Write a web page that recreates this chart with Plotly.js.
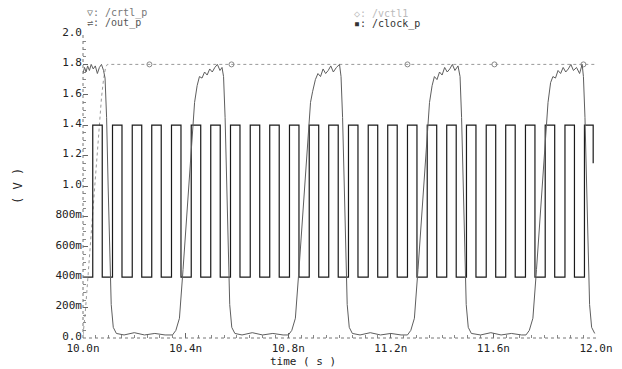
<!DOCTYPE html>
<html>
<head>
<meta charset="utf-8">
<script src="https://cdn.plot.ly/plotly-3.0.1.min.js"></script>
<style>html,body{margin:0;padding:0;background:#fff;}#chart{width:622px;height:369px;}</style>
</head>
<body>
<div id="chart"></div>
<script>
// ---- data (time in ns, voltage in V) ----
var clockTime = [10.000,10.038,10.075,10.115,10.152,10.192,10.229,10.268,10.305,10.345,10.382,10.422,10.459,10.498,10.535,10.575,10.612,10.652,10.689,10.728,10.765,10.805,10.842,10.882,10.919,10.958,10.995,11.035,11.072,11.112,11.149,11.188,11.225,11.265,11.302,11.342,11.379,11.418,11.455,11.495,11.532,11.572,11.609,11.648,11.685,11.725,11.762,11.802,11.839,11.879,11.916,11.955,11.989];
var clockVolt = [0.4,1.4,0.4,1.4,0.4,1.4,0.4,1.4,0.4,1.4,0.4,1.4,0.4,1.4,0.4,1.4,0.4,1.4,0.4,1.4,0.4,1.4,0.4,1.4,0.4,1.4,0.4,1.4,0.4,1.4,0.4,1.4,0.4,1.4,0.4,1.4,0.4,1.4,0.4,1.4,0.4,1.4,0.4,1.4,0.4,1.4,0.4,1.4,0.4,1.4,0.4,1.4,1.15];

var outTime = [
 10.000,10.006,10.012,10.018,10.025,10.032,10.040,10.048,10.056,10.064,10.072,10.080,10.086,10.092,10.098,10.104,10.110,10.118,10.130,
 10.160,10.200,10.240,10.280,10.320,
 10.349,10.362,10.376,10.390,10.403,10.415,10.425,10.435,10.445,10.454,10.464,10.474,10.484,10.494,10.504,10.514,10.524,10.534,10.542,10.548,10.554,10.560,10.566,10.572,10.580,10.592,
 10.620,10.660,10.700,10.740,10.780,
 10.801,10.814,10.828,10.842,10.855,10.867,10.877,10.887,10.895,10.906,10.916,10.926,10.936,10.946,10.956,10.966,10.976,10.988,11.000,11.006,11.012,11.018,11.024,11.030,11.038,11.050,
 11.080,11.120,11.160,11.200,11.240,
 11.265,11.278,11.292,11.306,11.319,11.331,11.341,11.351,11.361,11.370,11.380,11.390,11.400,11.410,11.420,11.430,11.440,11.450,11.462,11.470,11.476,11.482,11.488,11.494,11.502,11.514,
 11.550,11.590,11.630,11.670,11.710,
 11.727,11.740,11.754,11.768,11.781,11.793,11.803,11.813,11.823,11.832,11.842,11.852,11.862,11.872,11.882,11.892,11.902,11.912,11.924,11.936,11.946,11.951,11.957,11.963,11.969,11.975,11.983,11.995];
var outVolt = [
 1.74,1.78,1.75,1.79,1.76,1.80,1.77,1.79,1.74,1.78,1.80,1.76,1.71,1.45,1.00,0.55,0.22,0.07,0.03,
 0.02,0.035,0.02,0.03,0.02,
 0.02,0.05,0.13,0.45,0.75,1.05,1.30,1.55,1.66,1.72,1.71,1.75,1.73,1.77,1.75,1.78,1.80,1.76,1.78,1.72,1.45,1.00,0.55,0.22,0.07,0.03,
 0.02,0.035,0.02,0.03,0.02,
 0.02,0.05,0.13,0.45,0.75,1.05,1.30,1.55,1.62,1.70,1.74,1.72,1.77,1.74,1.76,1.79,1.75,1.78,1.80,1.72,1.45,1.00,0.55,0.22,0.07,0.03,
 0.02,0.035,0.02,0.03,0.02,
 0.02,0.05,0.13,0.45,0.75,1.05,1.30,1.55,1.66,1.72,1.70,1.75,1.73,1.78,1.75,1.77,1.80,1.76,1.79,1.72,1.45,1.00,0.55,0.22,0.07,0.03,
 0.02,0.035,0.02,0.03,0.02,
 0.02,0.05,0.13,0.45,0.75,1.05,1.30,1.55,1.68,1.72,1.71,1.76,1.74,1.78,1.75,1.77,1.80,1.76,1.78,1.74,1.80,1.72,1.45,1.00,0.55,0.22,0.07,0.03];

var ctrlTime = [10.000,10.008,10.017,10.025,10.035,10.045,10.055,10.064,10.072,10.080,10.088,10.095,12.000];
var ctrlVolt = [0.02,0.15,0.35,0.55,0.78,0.98,1.20,1.42,1.58,1.70,1.78,1.80,1.80];

var vctlTime = [10.259,10.579,11.265,11.604,11.951];
var vctlVolt = [1.80,1.80,1.80,1.80,1.80];

var xTickVals = [10.0,10.4,10.8,11.2,11.6,12.0];
var xTickText = ['10.0n','10.4n','10.8n','11.2n','11.6n','12.0n'];
var yTickVals = [0,0.2,0.4,0.6,0.8,1.0,1.2,1.4,1.6,1.8,2.0];
var yTickText = ['0.0','200m','400m','600m','800m','1.0','1.2','1.4','1.6','1.8','2.0'];

// ---- chart ----
var mono = 'DejaVu Sans Mono, monospace';
var traces = [
  {x: ctrlTime, y: ctrlVolt, type: 'scatter', mode: 'lines', name: '/crtl_p',
   line: {color: '#9a9a9a', width: 1, dash: 'dot'}},
  {x: vctlTime, y: vctlVolt, type: 'scatter', mode: 'markers', name: '/vctl1',
   marker: {symbol: 'circle-open', size: 5, color: '#888', line: {width: 1}}},
  {x: clockTime, y: clockVolt, type: 'scatter', mode: 'lines', name: '/clock_p',
   line: {color: '#1a1a1a', width: 1.2, shape: 'hv'}},
  {x: outTime, y: outVolt, type: 'scatter', mode: 'lines', name: '/out_p',
   line: {color: '#5e5e5e', width: 1}}
];

var L = 83, R = 26, T = 34, B = 31;
var pw = 622 - L - R, ph = 369 - T - B;
function px(x){ return (x - L) / pw; }
function py(y){ return (369 - B - y) / ph; }

var layout = {
  width: 622, height: 369,
  margin: {l: L, r: R, t: T, b: B, pad: 0},
  paper_bgcolor: '#fff', plot_bgcolor: '#fff',
  showlegend: false,
  xaxis: {
    range: [10, 12], tickvals: xTickVals, ticktext: xTickText,
    showgrid: false, zeroline: false, showline: false,
    ticks: 'inside', ticklen: 5, tickcolor: '#666', tickwidth: 1,
    ticklabelstandoff: 2,
    minor: {ticks: 'inside', ticklen: 3, dtick: 0.05, tickcolor: '#888', showgrid: false},
    tickfont: {family: mono, size: 11, color: '#222'}
  },
  yaxis: {
    range: [0, 2], tickvals: yTickVals, ticktext: yTickText,
    showgrid: false, zeroline: false, showline: false,
    ticks: 'inside', ticklen: 5, tickcolor: '#666', tickwidth: 1,
    ticklabelshift: -2,
    minor: {ticks: 'inside', ticklen: 3, dtick: 0.05, tickcolor: '#888', showgrid: false},
    tickfont: {family: mono, size: 11, color: '#222'}
  },
  shapes: [
    {type: 'line', xref: 'paper', yref: 'paper', x0: 0, x1: 0, y0: 0, y1: 1,
     line: {color: '#777', width: 1, dash: 'dot'}},
    {type: 'line', xref: 'paper', yref: 'paper', x0: 0, x1: 1, y0: 0, y1: 0,
     line: {color: '#777', width: 1, dash: 'dot'}}
  ],
  annotations: [
    {text: '( V )', xref: 'paper', yref: 'paper', x: px(18), y: py(186), textangle: -90,
     showarrow: false, xanchor: 'center', yanchor: 'middle', font: {family: mono, size: 12, color: '#222'}},
    {text: 'time ( s )', xref: 'paper', yref: 'paper', x: px(303), y: py(361),
     showarrow: false, xanchor: 'center', yanchor: 'middle', font: {family: mono, size: 11, color: '#222'}},
    {text: '▽: /crtl_p', xref: 'paper', yref: 'paper', x: px(85), y: py(13),
     showarrow: false, xanchor: 'left', yanchor: 'middle', font: {family: mono, size: 10, color: '#777'}},
    {text: '⇌: /out_p', xref: 'paper', yref: 'paper', x: px(85), y: py(23),
     showarrow: false, xanchor: 'left', yanchor: 'middle', font: {family: mono, size: 10, color: '#555'}},
    {text: '◇: /vctl1', xref: 'paper', yref: 'paper', x: px(352), y: py(13),
     showarrow: false, xanchor: 'left', yanchor: 'middle', font: {family: mono, size: 10, color: '#bbb'}},
    {text: '▪: /clock_p', xref: 'paper', yref: 'paper', x: px(352), y: py(24),
     showarrow: false, xanchor: 'left', yanchor: 'middle', font: {family: mono, size: 10, color: '#333'}}
  ]
};

Plotly.newPlot('chart', traces, layout, {staticPlot: true, displayModeBar: false});
</script>
</body>
</html>
